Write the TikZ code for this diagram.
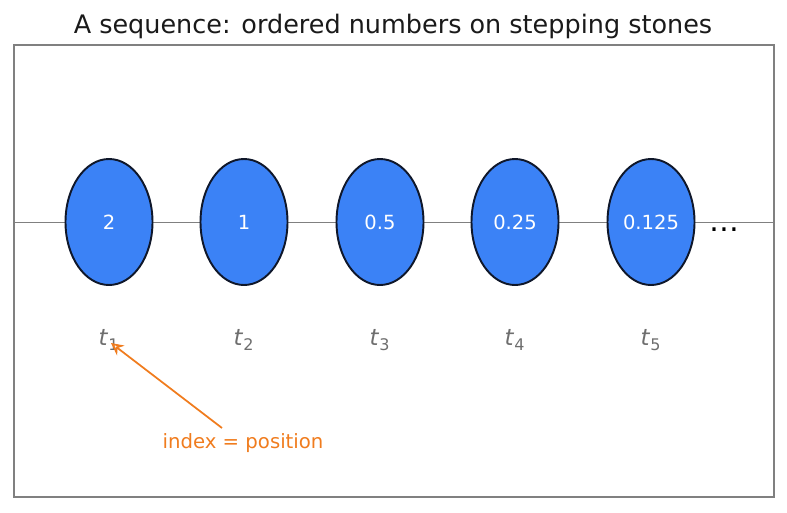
\documentclass[tikz,border=0pt]{standalone}
\usepackage{fontspec}
\setmainfont{DejaVu Sans}
\definecolor{stoneblue}{RGB}{59,130,246}
\definecolor{stoneedge}{RGB}{15,23,42}
\definecolor{seqgray}{RGB}{128,128,128}
\definecolor{labgray}{RGB}{110,110,110}
\definecolor{seqorange}{RGB}{240,124,30}
\definecolor{titleblack}{RGB}{26,26,26}
\usetikzlibrary{arrows.meta,positioning,shapes.geometric}

\tikzset{
  stone/.style={draw=stoneedge,line width=1.1pt,fill=stoneblue,ellipse,
    minimum width=1.74cm,minimum height=2.52cm,inner sep=0pt,
    text=white,font=\fontsize{11.1}{13}\selectfont},
  idxlabel/.style={text=labgray,font=\fontsize{13}{15}\selectfont}
}

\begin{document}
\begin{tikzpicture}
  \useasboundingbox (0,0) rectangle (15.74,10.24);

  % Frame and baseline
  \draw[seqgray,line width=0.8pt] (0.28,0.30) rectangle (15.48,9.34);
  \draw[seqgray,line width=0.5pt] (0.28,5.80) -- (15.48,5.80);

  % Title
  \node[text=titleblack,font=\fontsize{14.5}{17}\selectfont] (title) at (7.86,9.72)
    {A sequence: ordered numbers on stepping stones};

  % Stepping stones
  \node[stone] (s1) at (2.18,5.80) {2};
  \node[stone] (s2) at (4.88,5.80) {1};
  \node[stone] (s3) at (7.60,5.80) {0.5};
  \node[stone] (s4) at (10.30,5.80) {0.25};
  \node[stone] (s5) at (13.02,5.80) {0.125};
  \node[font=\fontsize{17}{19}\selectfont,anchor=base] (dots) at (14.48,5.62) {\dots};

  % Index labels
  \node[idxlabel] (t1) at (2.18,3.44) {\textit{t}\textsubscript{1}};
  \node[idxlabel] (t2) at (4.88,3.44) {\textit{t}\textsubscript{2}};
  \node[idxlabel] (t3) at (7.60,3.44) {\textit{t}\textsubscript{3}};
  \node[idxlabel] (t4) at (10.30,3.44) {\textit{t}\textsubscript{4}};
  \node[idxlabel] (t5) at (13.02,3.44) {\textit{t}\textsubscript{5}};

  % Note
  \node[text=seqorange,font=\fontsize{11.2}{13}\selectfont] (note) at (4.86,1.38) {index = position};
  \coordinate (tail) at (4.44,1.68);
  \draw[-{Stealth[length=7pt,width=7pt,open]},seqorange,line width=1pt] (tail) -- ([shift={(0.04,-0.06)}]t1.center);
\end{tikzpicture}
\end{document}
